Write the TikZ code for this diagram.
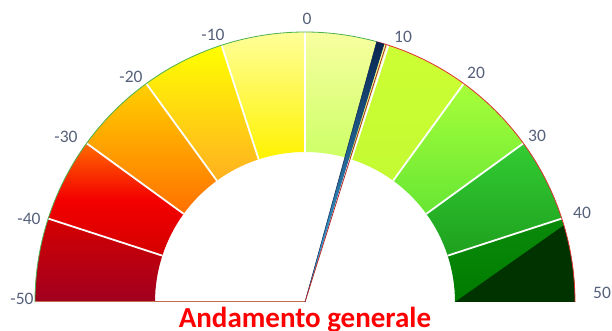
\documentclass[tikz,border=0pt]{standalone}
\usepackage{fontspec}
\setmainfont{Carlito}
\definecolor{tickgray}{HTML}{56607A}
\definecolor{rimgreen}{HTML}{4CB050}
\definecolor{rimred}{HTML}{E03030}
\definecolor{basebrown}{HTML}{C46A50}
\definecolor{needletop}{HTML}{0A2550}
\definecolor{needlebot}{HTML}{40B4EA}
\definecolor{deepgreen}{HTML}{003300}

\newcommand{\gaugeseg}[2]{%
  \shade[#2]
    ({90-1.8*#1}:150) -- ({90-1.8*#1}:270)
    arc[start angle={90-1.8*#1}, end angle={72-1.8*#1}, radius=270]
    -- ({72-1.8*#1}:150)
    arc[start angle={72-1.8*#1}, end angle={90-1.8*#1}, radius=150] -- cycle;}

\begin{document}
\begin{tikzpicture}[x = 1pt, y = 1pt,
                    tick/.style = {text = tickgray, inner sep = 0,
                                   font = \fontsize{17.5}{18}\selectfont},
                    sep/.style = {draw = white, line width = 1.8pt},
                    title/.style = {text = red, inner sep = 0, anchor = base,
                                    font = \bfseries\fontsize{29}{30}\selectfont}]
  \useasboundingbox (-305, -29) rectangle (307, 302);

  \gaugeseg{-50}{top color = {rgb,255:red,212;green,0;blue,0}, bottom color = {rgb,255:red,160;green,0;blue,32}}
  \gaugeseg{-40}{top color = {rgb,255:red,255;green,106;blue,0}, bottom color = {rgb,255:red,212;green,0;blue,0}, middle color = {rgb,255:red,244;green,0;blue,0}}
  \gaugeseg{-30}{top color = {rgb,255:red,255;green,208;blue,0}, bottom color = {rgb,255:red,255;green,112;blue,0}}
  \gaugeseg{-20}{top color = {rgb,255:red,255;green,255;blue,0}, bottom color = {rgb,255:red,255;green,176;blue,32}}
  \gaugeseg{-10}{top color = {rgb,255:red,255;green,255;blue,153}, bottom color = {rgb,255:red,255;green,242;blue,0}}
  \gaugeseg{0}{top color = {rgb,255:red,248;green,255;blue,160}, bottom color = {rgb,255:red,204;green,255;blue,102}}
  \gaugeseg{10}{top color = {rgb,255:red,204;green,255;blue,51}, bottom color = {rgb,255:red,196;green,250;blue,51}}
  \gaugeseg{20}{top color = {rgb,255:red,168;green,255;blue,58}, bottom color = {rgb,255:red,102;green,230;blue,51}}
  \gaugeseg{30}{top color = {rgb,255:red,51;green,204;blue,51}, bottom color = {rgb,255:red,30;green,160;blue,30}}
  \gaugeseg{40}{top color = {rgb,255:red,10;green,138;blue,10}, bottom color = {rgb,255:red,0;green,124;blue,0}}

  \fill[deepgreen] (0:150) -- (16.5:270)
    arc[start angle = 16.5, end angle = 0, radius = 270] -- cycle;

  \foreach \v in {-40, -30, ..., 40}
    \draw[sep] ({90-1.8*\v}:150) -- ({90-1.8*\v}:270);

  \draw[basebrown, line width = 1pt] (-270, 0) -- (0, 0);
  \draw[rimgreen, line width = 0.8pt] (180:270)
    arc[start angle = 180, end angle = 74.6, radius = 270];
  \draw[rimred, line width = 0.8pt] (74.6:270)
    arc[start angle = 74.6, end angle = 0, radius = 270];

  \shade[top color = needletop, bottom color = needlebot]
    (0, 0) -- (74.6:270) arc[start angle = 74.6, end angle = 72.9, radius = 270] -- cycle;
  \draw[needletop, line width = 0.5pt] (0, 0) -- (74.6:270);
  \draw[rimred!80!black, line width = 0.8pt] (0, 0) -- (72.5:270);

  \foreach \v/\x/\y [count = \i] in {-50/-283/3, -40/-276/83, -30/-239/165,
                                     -20/-174/225, -10/-92/267, 0/2/283,
                                     10/98/265, 20/171/229, 30/232/166,
                                     40/277/89, 50/297/9}
    \node[tick] (lab\i) at (\x, \y) {\v};

  \node[title] (title) at (0, -26) {Andamento generale};
\end{tikzpicture}
\end{document}
